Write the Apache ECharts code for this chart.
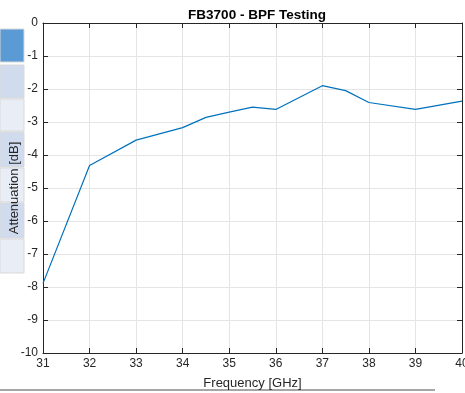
<!DOCTYPE html>
<html>
<head>
<meta charset="utf-8">
<style>
  html, body { margin: 0; padding: 0; background: #fff; }
  #chart { width: 465px; height: 393px; }
</style>
<script src="https://cdn.jsdelivr.net/npm/echarts@6/dist/echarts.min.js"></script>
</head>
<body>
<div id="chart"></div>
<script>
// measured points, frequency in GHz
const freqs = [31, 32, 33, 34, 34.5, 35, 35.5, 36, 37, 37.5, 38, 39, 40];
const attenuation = [-7.89, -4.32, -3.55, -3.17, -2.86, -2.70, -2.55, -2.62, -1.90, -2.05, -2.41, -2.62, -2.37];
const xTicks = { min: 31, max: 40, step: 1 };
const yTicks = { min: -10, max: 0, step: 1 };

const font = 'Liberation Sans, Arial, Helvetica, sans-serif';
const ink = '#262626';

// side panel strips from the app window (top, bottom, colour)
const strips = [
  [29, 62, '#5b9bd5'],
  [65, 98, '#d0dcee'],
  [99, 131, '#e8edf6'],
  [132, 167, '#d0dcee'],
  [168, 202, '#e8edf6'],
  [203, 238, '#d0dcee'],
  [239, 273, '#e8edf6']
];

const chart = echarts.init(document.getElementById('chart'), null, { renderer: 'canvas' });

const boxAxis = (extra) => Object.assign({
  type: 'value',
  axisLine: { show: true, onZero: false, lineStyle: { color: '#262626', width: 1 } },
  axisTick: { show: true, inside: true, length: 5, lineStyle: { color: '#262626' } },
  axisLabel: { show: false },
  splitLine: { show: false }
}, extra);

const option = {
  animation: false,
  backgroundColor: '#fff',
  title: {
    text: 'FB3700 - BPF Testing',
    left: 252, textAlign: 'center', top: 3,
    textStyle: { fontFamily: font, fontSize: 13.5, fontWeight: 'bold', color: '#000' }
  },
  grid: { left: 43, right: 3, top: 23, bottom: 40, containLabel: false, outerBoundsMode: 'none' },
  graphic: strips.map(([y0, y1, c]) => ({
    type: 'rect', z: -10,
    shape: { x: 0, y: y0, width: 24, height: y1 - y0 },
    style: { fill: c, stroke: '#d9d9d9', lineWidth: 1 }
  })).concat([{
    type: 'rect', z: -10,
    shape: { x: 0, y: 389, width: 435, height: 2 },
    style: { fill: '#a6a6a6' }
  }]),
  xAxis: [
    boxAxis({
      min: xTicks.min, max: xTicks.max, interval: xTicks.step,
      position: 'bottom',
      name: 'Frequency [GHz]', nameLocation: 'middle', nameGap: 24, nameMoveOverlap: false,
      nameTextStyle: { fontFamily: font, fontSize: 13, color: ink },
      axisLabel: { show: true, fontFamily: font, fontSize: 12, color: ink, margin: 5 },
      splitLine: { show: true, lineStyle: { color: '#e5e5e5', width: 1 } }
    }),
    boxAxis({ min: xTicks.min, max: xTicks.max, interval: xTicks.step, position: 'top' })
  ],
  yAxis: [
    boxAxis({
      min: yTicks.min, max: yTicks.max, interval: yTicks.step,
      position: 'left',
      name: 'Attenuation [dB]', nameLocation: 'middle', nameGap: 22, nameMoveOverlap: false,
      nameTextStyle: { fontFamily: font, fontSize: 13, color: ink },
      axisLabel: { show: true, fontFamily: font, fontSize: 12, color: ink, margin: 5 },
      splitLine: { show: true, lineStyle: { color: '#e5e5e5', width: 1 } }
    }),
    boxAxis({ min: yTicks.min, max: yTicks.max, interval: yTicks.step, position: 'right' })
  ],
  series: [{
    type: 'line',
    data: freqs.map((f, i) => [f, attenuation[i]]),
    showSymbol: false,
    lineStyle: { color: '#0072bd', width: 1.2 },
    itemStyle: { color: '#0072bd' }
  }]
};

chart.setOption(option);
</script>
</body>
</html>
